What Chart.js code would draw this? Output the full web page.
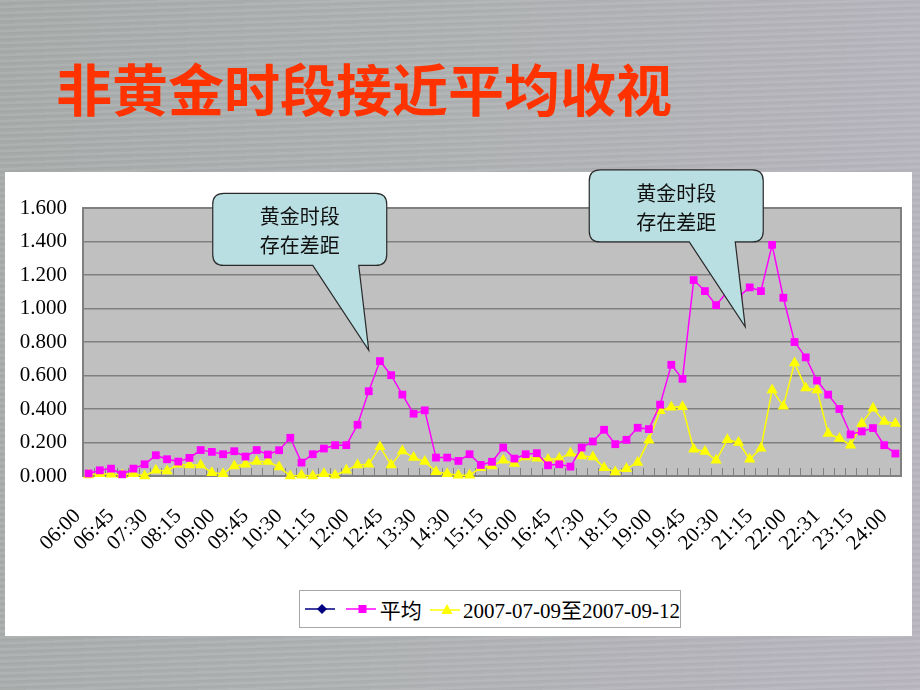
<!DOCTYPE html>
<html>
<head>
<meta charset="utf-8">
<script src="https://cdn.jsdelivr.net/npm/chart.js@4.4.1/dist/chart.umd.min.js"></script>
<style>
    body {
        margin: 0;
        width: 920px;
        height: 690px;
        overflow: hidden;
        position: relative;
        background:
            repeating-linear-gradient(178deg, rgba(255,255,255,0.06) 0px, rgba(255,255,255,0.06) 2px, rgba(0,0,0,0.03) 3px, rgba(0,0,0,0) 6px),
            linear-gradient(100deg, #a7acab 0%, #afb2b3 45%, #b9b6c0 100%);
    }
    #title {
        position: absolute;
        left: 56px;
        top: 46px;
        font: 700 56px "Noto Sans CJK SC", sans-serif;
        color: #ff3300;
        white-space: nowrap;
    }
    #panel {
        position: absolute;
        left: 5px;
        top: 172px;
        width: 907px;
        height: 464px;
        background: #fff;
    }
    #chart { position: absolute; left: 0; top: 0; }
    #legend {
        position: absolute;
        left: 299px;
        top: 590px;
        width: 380px;
        height: 36px;
        border: 1px solid #a6a6a6;
        background: #fff;
        display: flex;
        align-items: center;
        font: 21px "Liberation Serif", "Noto Sans CJK SC", serif;
        color: #000;
        white-space: nowrap;
    }
    #legend svg { display: block; }
</style>
</head>
<body>
<div id="title">非黄金时段接近平均收视</div>
<div id="panel"></div>
<canvas id="chart" width="920" height="690"></canvas>
<div id="legend">
    <svg width="34" height="14" style="margin-left:5px"><line x1="0" y1="7" x2="34" y2="7" stroke="#000080" stroke-width="1.5"/><path d="M17 2 L22 7 L17 12 L12 7 Z" fill="#000080"/></svg>
    <svg width="33" height="14" style="margin-left:11px"><line x1="0" y1="7" x2="33" y2="7" stroke="#ff00ff" stroke-width="1.5"/><rect x="12.5" y="3" width="8" height="8" fill="#ff00ff"/></svg>
    <span style="margin-left:4px">平均</span>
    <svg width="34" height="14" style="margin-left:8px"><line x1="0" y1="8" x2="34" y2="8" stroke="#ffff00" stroke-width="1.5"/><path d="M17 2 L22.5 12 L11.5 12 Z" fill="#ffff00"/></svg>
    <span style="margin-left:3px">2007-07-09至2007-09-12</span>
</div>
<script>
    // --- Data ---
    const timeLabels = [
        '06:00', '06:15', '06:30', '06:45', '07:00', '07:15', '07:30', '07:45', '08:00', '08:15',
        '08:30', '08:45', '09:00', '09:15', '09:30', '09:45', '10:00', '10:15', '10:30', '10:45',
        '11:00', '11:15', '11:30', '11:45', '12:00', '12:15', '12:30', '12:45', '13:00', '13:15',
        '13:30', '13:45', '14:00', '14:30', '14:45', '15:00', '15:15', '15:30', '15:45', '16:00',
        '16:15', '16:30', '16:45', '17:00', '17:15', '17:30', '17:45', '18:00', '18:15', '18:30',
        '18:45', '19:00', '19:15', '19:30', '19:45', '20:00', '20:15', '20:30', '20:45', '21:00',
        '21:15', '21:30', '21:45', '22:00', '22:10', '22:20', '22:31', '22:45', '23:00', '23:15',
        '23:30', '23:45', '24:00'
    ];

    // 平均
    const averageValues = [
        0.015, 0.034, 0.044, 0.010, 0.044, 0.070, 0.124, 0.100, 0.086, 0.108,
        0.155, 0.144, 0.130, 0.148, 0.116, 0.155, 0.128, 0.154, 0.228, 0.080,
        0.130, 0.164, 0.184, 0.184, 0.306, 0.506, 0.686, 0.602, 0.486, 0.372,
        0.392, 0.110, 0.110, 0.090, 0.130, 0.066, 0.085, 0.170, 0.104, 0.130,
        0.136, 0.064, 0.070, 0.056, 0.170, 0.206, 0.276, 0.190, 0.216, 0.288,
        0.280, 0.426, 0.664, 0.580, 1.170, 1.104, 1.020, 1.100, 1.070, 1.126,
        1.104, 1.380, 1.064, 0.800, 0.708, 0.570, 0.486, 0.400, 0.248, 0.266,
        0.286, 0.184, 0.134
    ];

    // 2007-07-09至2007-09-12
    const periodValues = [
        0.006, 0.014, 0.010, 0.008, 0.014, 0.000, 0.034, 0.030, 0.070, 0.066,
        0.066, 0.020, 0.014, 0.060, 0.070, 0.086, 0.086, 0.054, 0.000, 0.004,
        0.000, 0.014, 0.004, 0.034, 0.066, 0.070, 0.174, 0.066, 0.150, 0.110,
        0.086, 0.026, 0.014, 0.004, 0.004, 0.050, 0.060, 0.094, 0.074, 0.114,
        0.106, 0.098, 0.104, 0.136, 0.120, 0.114, 0.050, 0.024, 0.044, 0.080,
        0.214, 0.390, 0.410, 0.414, 0.160, 0.146, 0.094, 0.216, 0.200, 0.100,
        0.166, 0.514, 0.416, 0.674, 0.526, 0.514, 0.254, 0.224, 0.184, 0.314,
        0.404, 0.326, 0.314
    ];

    // third legend entry has no plotted values
    const emptyValues = [];

    const yTicks = { min: 0, max: 1.6, step: 0.2 };

    // callout texts and where their tails point (category index, value)
    const calloutLines = ['黄金时段', '存在差距'];
    const calloutTips = [[25.0, 0.75], [58.6, 0.89]];

    // --- Plugins ---
    const plotFrame = {
        id: 'plotFrame',
        beforeDraw(chart) {
            const { ctx, chartArea: a } = chart;
            ctx.save();
            ctx.fillStyle = '#c0c0c0';
            ctx.fillRect(a.left, a.top, a.right - a.left, a.bottom - a.top);
            ctx.restore();
        },
        beforeDatasetsDraw(chart) {
            const { ctx, chartArea: a } = chart;
            const n = timeLabels.length;
            const w = (a.right - a.left) / n;
            ctx.save();
            ctx.strokeStyle = '#808080';
            ctx.lineWidth = 1;
            for (let k = 1; k < n; k++) {
                const px = Math.round(a.left + k * w) + 0.5;
                ctx.beginPath();
                ctx.moveTo(px, a.bottom);
                ctx.lineTo(px, a.bottom - 8);
                ctx.stroke();
            }
            ctx.lineWidth = 2;
            ctx.strokeRect(a.left, a.top, a.right - a.left, a.bottom - a.top);
            ctx.restore();
        }
    };

    const callouts = {
        id: 'callouts',
        afterDraw(chart) {
            const { ctx } = chart;
            const xs = chart.scales.x, ys = chart.scales.y;
            calloutTips.forEach(([ci, v]) => {
                const tx = xs.getPixelForValue(ci);
                const ty = ys.getPixelForValue(v);
                const l = tx - 156, r = tx + 18, t = ty - 157, b = ty - 85, rad = 11;
                ctx.save();
                ctx.beginPath();
                ctx.moveTo(l + rad, t);
                ctx.lineTo(r - rad, t);
                ctx.quadraticCurveTo(r, t, r, t + rad);
                ctx.lineTo(r, b - rad);
                ctx.quadraticCurveTo(r, b, r - rad, b);
                ctx.lineTo(tx - 10, b);
                ctx.lineTo(tx, ty);
                ctx.lineTo(tx - 56, b);
                ctx.lineTo(l + rad, b);
                ctx.quadraticCurveTo(l, b, l, b - rad);
                ctx.lineTo(l, t + rad);
                ctx.quadraticCurveTo(l, t, l + rad, t);
                ctx.closePath();
                ctx.fillStyle = '#b9dfe3';
                ctx.fill();
                ctx.strokeStyle = '#2a2a2a';
                ctx.lineWidth = 1.2;
                ctx.stroke();
                ctx.fillStyle = '#111';
                ctx.font = '20px "Noto Sans CJK SC"';
                ctx.textAlign = 'center';
                ctx.textBaseline = 'middle';
                ctx.fillText(calloutLines[0], tx - 69, ty - 134);
                ctx.fillText(calloutLines[1], tx - 69, ty - 105);
                ctx.restore();
            });
        }
    };

    // --- Chart ---
    const serifFont = { family: '"Liberation Serif", serif', size: 21 };

    new Chart(document.getElementById('chart'), {
        type: 'line',
        data: {
            labels: timeLabels,
            datasets: [
                {
                    label: '',
                    data: emptyValues,
                    borderColor: '#000080',
                    backgroundColor: '#000080',
                    pointStyle: 'rectRot'
                },
                {
                    label: '平均',
                    data: averageValues,
                    borderColor: '#ff00ff',
                    backgroundColor: '#ff00ff',
                    borderWidth: 1.5,
                    pointStyle: 'rect',
                    pointRadius: 5.5,
                    pointBorderWidth: 0,
                    tension: 0,
                    clip: false
                },
                {
                    label: '2007-07-09至2007-09-12',
                    data: periodValues,
                    borderColor: '#ffff00',
                    backgroundColor: '#ffff00',
                    borderWidth: 1.5,
                    pointStyle: 'triangle',
                    pointRadius: 6.5,
                    pointBorderWidth: 0,
                    tension: 0,
                    clip: false
                }
            ]
        },
        options: {
            responsive: false,
            animation: false,
            devicePixelRatio: 1,
            layout: { padding: { left: 5, top: 208, right: 19, bottom: 64 } },
            plugins: {
                legend: { display: false },
                tooltip: { enabled: false }
            },
            scales: {
                x: {
                    offset: true,
                    grid: { display: false, drawTicks: false },
                    border: { display: false },
                    ticks: {
                        autoSkip: false,
                        minRotation: 45,
                        maxRotation: 45,
                        padding: 17,
                        color: '#000',
                        font: serifFont,
                        // every third time is labelled; the trailing gap keeps the text left of its tick
                        callback: function(val, idx) {
                            return idx % 3 === 0 ? this.getLabelForValue(val) + '\u00a0\u00a0\u00a0' : '';
                        }
                    },
                    afterFit: (scale) => {
                        scale.height = 150;
                        scale.paddingLeft = 0;
                        scale.paddingRight = 0;
                    }
                },
                y: {
                    min: yTicks.min,
                    max: yTicks.max,
                    grid: { color: '#808080', lineWidth: 1.5, drawTicks: false },
                    border: { display: false },
                    ticks: {
                        stepSize: yTicks.step,
                        padding: 16,
                        color: '#000',
                        font: serifFont,
                        callback: (v) => v.toFixed(3)
                    },
                    afterFit: (scale) => {
                        scale.width = 78;
                        scale.paddingTop = 0;
                        scale.paddingBottom = 0;
                    }
                }
            }
        },
        plugins: [plotFrame, callouts]
    });
</script>
</body>
</html>
